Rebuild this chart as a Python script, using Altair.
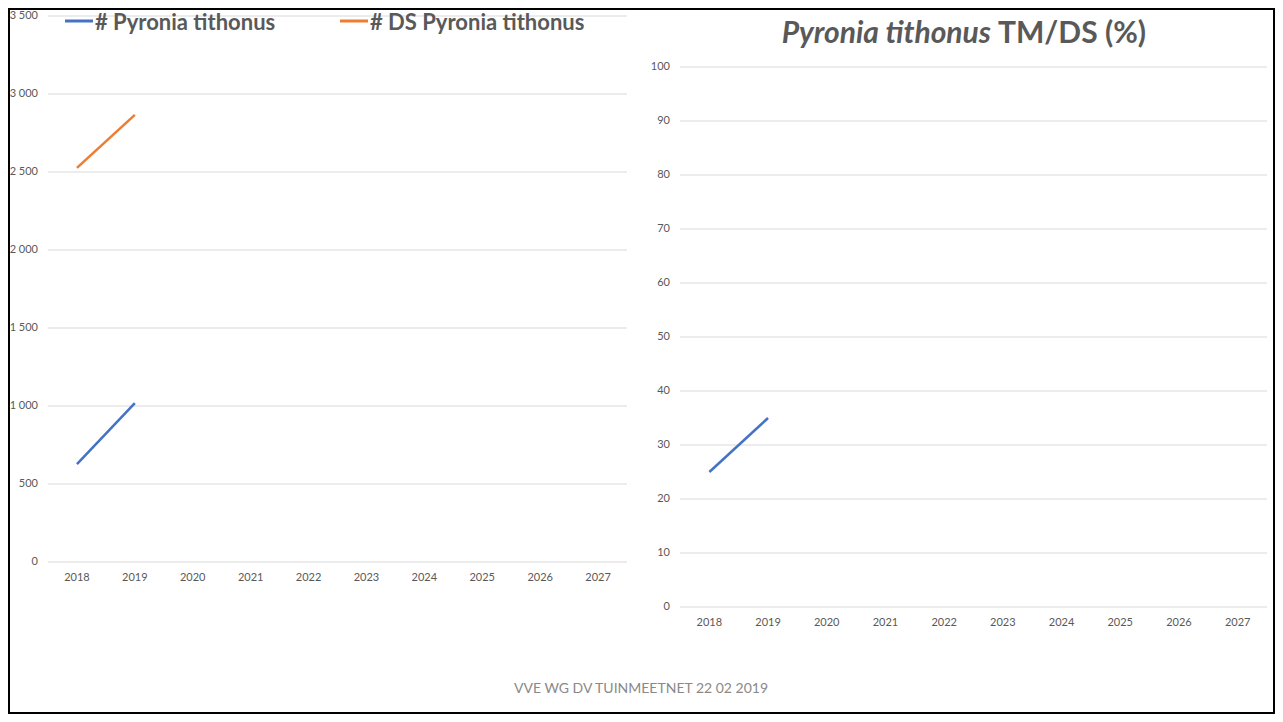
import altair as alt
import pandas as pd

# ---------------- data ----------------
years = list(range(2018, 2028))
line_years = [2018, 2019]
count_tm = [628, 1019]          # # Pyronia tithonus
count_ds = [2526, 2866]         # # DS Pyronia tithonus
pct_tm_ds = [25, 35]            # TM/DS (%)
series_names = ["# Pyronia tithonus", "# DS Pyronia tithonus"]
series_colors = ["#4472C4", "#ED7D31"]
left_ticks = [0, 500, 1000, 1500, 2000, 2500, 3000, 3500]
left_tick_labels = ["0", "500", "1 000", "1 500", "2 000", "2 500", "3 000", "3 500"]
right_ticks = [0, 10, 20, 30, 40, 50, 60, 70, 80, 90, 100]
right_tick_labels = [str(t) for t in right_ticks]
title_italic = "Pyronia tithonus"
title_rest = "TM/DS (%)"
footer_text = "VVE WG DV TUINMEETNET 22 02 2019"

FONT = "Lato"
GRID = "#d9d9d9"
LABEL = "#595959"

W, H = 1267, 706

# ---------------- tables ----------------
df_left_lines = pd.DataFrame({
    "year": line_years * 2,
    "value": count_tm + count_ds,
    "series": [series_names[0]] * 2 + [series_names[1]] * 2,
})
df_right_line = pd.DataFrame({"year": line_years, "value": pct_tm_ds})
df_years = pd.DataFrame({"year": years})
df_lt = pd.DataFrame({"v": left_ticks, "label": left_tick_labels})
df_rt = pd.DataFrame({"v": right_ticks, "label": right_tick_labels})
one = pd.DataFrame({"a": [0]})

# ---------------- left panel ----------------
lx = alt.Scale(type="point", domain=years, range=[40, 619], padding=0.5)
ly = alt.Scale(domain=[0, 3500], range=[554, 8], zero=False, nice=False)

l_grid = alt.Chart(df_lt).mark_rule(color=GRID, strokeWidth=1).encode(
    y=alt.Y("v:Q", scale=ly, axis=None), x=alt.value(40), x2=alt.value(619))
l_ylab = alt.Chart(df_lt).mark_text(align="right", baseline="middle", fontSize=11,
                                    color=LABEL, font=FONT).encode(
    y=alt.Y("v:Q", scale=ly, axis=None), x=alt.value(30), text="label:N")
l_xlab = alt.Chart(df_years).mark_text(align="center", baseline="middle", fontSize=11,
                                       color=LABEL, font=FONT).encode(
    x=alt.X("year:O", scale=lx, axis=None), y=alt.value(570), text="year:N")
l_lines = alt.Chart(df_left_lines).mark_line(strokeWidth=2.5).encode(
    x=alt.X("year:O", scale=lx, axis=None),
    y=alt.Y("value:Q", scale=ly, axis=None),
    color=alt.Color("series:N", scale=alt.Scale(domain=series_names, range=series_colors),
                    legend=None))
left = alt.layer(l_grid, l_ylab, l_xlab, l_lines)

# ---------------- right panel ----------------
rx = alt.Scale(type="point", domain=years, range=[672, 1259], padding=0.5)
ry = alt.Scale(domain=[0, 100], range=[599, 59], zero=False, nice=False)

r_grid = alt.Chart(df_rt).mark_rule(color=GRID, strokeWidth=1).encode(
    y=alt.Y("v:Q", scale=ry, axis=None), x=alt.value(672), x2=alt.value(1259))
r_ylab = alt.Chart(df_rt).mark_text(align="right", baseline="middle", fontSize=11,
                                    color=LABEL, font=FONT).encode(
    y=alt.Y("v:Q", scale=ry, axis=None), x=alt.value(662), text="label:N")
r_xlab = alt.Chart(df_years).mark_text(align="center", baseline="middle", fontSize=11,
                                       color=LABEL, font=FONT).encode(
    x=alt.X("year:O", scale=rx, axis=None), y=alt.value(615), text="year:N")
r_line = alt.Chart(df_right_line).mark_line(strokeWidth=2.5, color=series_colors[0]).encode(
    x=alt.X("year:O", scale=rx, axis=None),
    y=alt.Y("value:Q", scale=ry, axis=None))
right = alt.layer(r_grid, r_ylab, r_xlab, r_line)

# ---------------- legend (manual, top of left panel) ----------------
leg_layers = []
for name, col, x0 in zip(series_names, series_colors, [57, 332]):
    leg_layers.append(alt.Chart(one).mark_rule(color=col, strokeWidth=3).encode(
        x=alt.value(x0), x2=alt.value(x0 + 28), y=alt.value(13)))
    leg_layers.append(alt.Chart(one).mark_text(
        align="left", baseline="middle", fontSize=22, fontWeight="bold",
        color=LABEL, font=FONT, text=name).encode(x=alt.value(x0 + 30), y=alt.value(15)))

# ---------------- title, footer, border ----------------
t1 = alt.Chart(one).mark_text(align="right", baseline="middle", fontSize=30,
                              fontWeight="bold", fontStyle="italic", color=LABEL,
                              font=FONT, text=title_italic).encode(
    x=alt.value(983), y=alt.value(26))
t2 = alt.Chart(one).mark_text(align="left", baseline="middle", fontSize=30,
                              fontWeight="bold", color=LABEL, font=FONT,
                              text=title_rest).encode(x=alt.value(990), y=alt.value(26))
foot = alt.Chart(one).mark_text(align="center", baseline="middle", fontSize=14,
                                color="#898989", font=FONT, text=footer_text).encode(
    x=alt.value(633), y=alt.value(681))
border = alt.Chart(one).mark_rect(fillOpacity=0, stroke="black", strokeWidth=2).encode(
    x=alt.value(1), x2=alt.value(W - 1), y=alt.value(1), y2=alt.value(H - 1))

chart = alt.layer(left, right, *leg_layers, t1, t2, foot, border).resolve_scale(
    x="independent", y="independent", color="independent"
).properties(
    width=W, height=H, padding=0,
    autosize=alt.AutoSizeParams(type="none"),
    background="white",
).configure_view(stroke=None)

chart.save("out.html", embed_options={"renderer": "svg", "actions": False})
